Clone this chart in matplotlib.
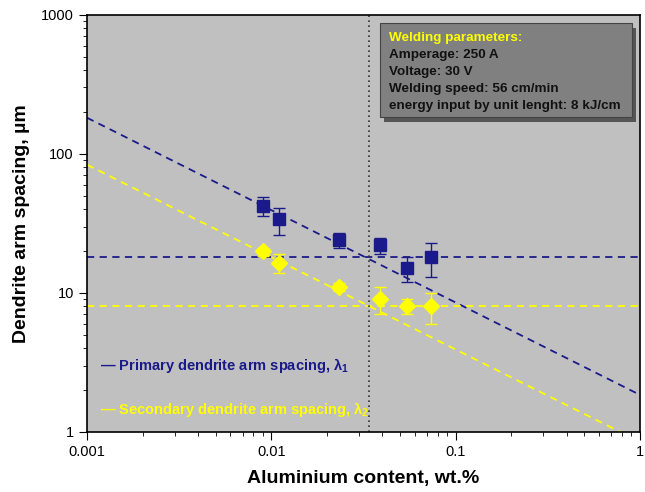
import numpy as np
import matplotlib
matplotlib.use("Agg")
import matplotlib.pyplot as plt
from matplotlib.patches import Rectangle

plt.rcParams['font.family'] = ['Liberation Sans', 'DejaVu Sans']
plt.rcParams['mathtext.fontset'] = 'custom'
plt.rcParams['mathtext.rm'] = 'Liberation Sans:bold'
plt.rcParams['mathtext.it'] = 'Liberation Sans:bold'
plt.rcParams['mathtext.bf'] = 'Liberation Sans:bold'

# Data
al = [0.009, 0.011, 0.0233, 0.039, 0.0545, 0.0736]
primary = [42, 34, 24, 22, 15, 18]
primary_lo = [36, 26, 21, 19, 12, 13]
primary_hi = [49, 41, 27, 25, 18, 23]
secondary = [20, 16.5, 11, 9, 8, 8]
secondary_lo = [18.5, 14, 10.3, 7, 7, 6]
secondary_hi = [21, 19, 11.8, 11, 9, 10]

slope = -0.664
coef_primary = 1.85
coef_secondary = 0.85
plateau_primary = 18
plateau_secondary = 8
al_limit = 0.034

navy = '#1a1a8a'
yellow = '#ffff00'

fig = plt.figure(figsize=(6.45, 4.92), dpi=100)
ax = fig.add_axes([0.135, 0.122, 0.857, 0.848])
ax.set_facecolor('#c0c0c0')
ax.set_xscale('log')
ax.set_yscale('log')
ax.set_xlim(0.001, 1)
ax.set_ylim(1, 1000)

xx = np.logspace(-3, 0, 200)
ax.plot(xx, coef_primary * xx ** slope, ls=(0, (4, 3)), color=navy, lw=1.3)
ax.plot(xx, coef_secondary * xx ** slope, ls=(0, (4, 3)), color=yellow, lw=1.3)
ax.axhline(plateau_primary, ls=(0, (4, 3)), color=navy, lw=1.3)
ax.axhline(plateau_secondary, ls=(0, (4, 3)), color=yellow, lw=1.3)
ax.axvline(al_limit, ls=(0, (1, 2)), color='#333333', lw=1.2)

p = np.array(primary)
ax.errorbar(al, primary, yerr=[p - np.array(primary_lo), np.array(primary_hi) - p],
            fmt='s', color=navy, ms=8, ecolor=navy, elinewidth=1, capsize=4, zorder=5)
s = np.array(secondary)
ax.errorbar(al, secondary, yerr=[s - np.array(secondary_lo), np.array(secondary_hi) - s],
            fmt='D', color=yellow, ms=8, ecolor=yellow, elinewidth=1, capsize=4, zorder=5)

# legend-like text
ax.text(0.00118, 3.0, '— Primary dendrite arm spacing, λ$_1$', color=navy,
        fontsize=10.5, fontweight='bold', va='center')
ax.text(0.00118, 1.45, '— Secondary dendrite arm spacing, λ$_2$', color=yellow,
        fontsize=10.5, fontweight='bold', va='center')

# parameter box
bx0, by0, bw, bh = 0.530, 0.755, 0.455, 0.225
ax.add_patch(Rectangle((bx0 + 0.008, by0 - 0.012), bw, bh, transform=ax.transAxes,
                       facecolor='#555555', edgecolor='none', zorder=6))
ax.add_patch(Rectangle((bx0, by0), bw, bh, transform=ax.transAxes,
                       facecolor='#808080', edgecolor='#444444', lw=0.8, zorder=7))
lines = ['Welding parameters:', 'Amperage: 250 A', 'Voltage: 30 V',
         'Welding speed: 56 cm/min', 'energy input by unit lenght: 8 kJ/cm']
for i, t in enumerate(lines):
    ax.text(bx0 + 0.016, by0 + bh - 0.035 - i * 0.041, t, transform=ax.transAxes,
            color=yellow if i == 0 else '#111111', fontsize=9.7, fontweight='bold',
            va='center', zorder=8)

ax.set_xticks([0.001, 0.01, 0.1, 1])
ax.set_xticklabels(['0.001', '0.01', '0.1', '1'])
ax.set_yticks([1, 10, 100, 1000])
ax.set_yticklabels(['1', '10', '100', '1000'])
ax.tick_params(which='major', direction='out', length=6, labelsize=10.5, top=False, right=False)
ax.tick_params(which='minor', direction='out', length=3, top=False, right=False)
for sp in ax.spines.values():
    sp.set_linewidth(1.2)

ax.set_xlabel('Aluminium content, wt.%', fontsize=14, fontweight='bold', labelpad=8)
ax.set_ylabel('Dendrite arm spacing, µm', fontsize=14, fontweight='bold', labelpad=8)

fig.savefig('out.png', dpi=100)
